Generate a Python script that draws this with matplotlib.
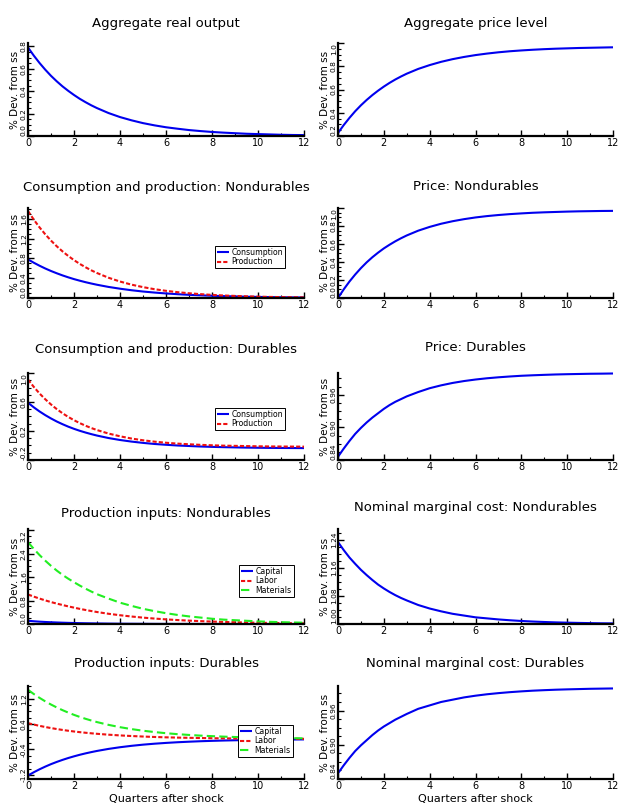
import numpy as np
import matplotlib
matplotlib.use("Agg")
import matplotlib.pyplot as plt
from matplotlib.ticker import FixedLocator, AutoMinorLocator

# ---------------- data ----------------
quarters = [0, 0.25, 0.5, 0.75, 1, 1.25, 1.5, 1.75, 2, 2.25, 2.5, 2.75, 3,
            3.5, 4, 4.5, 5, 5.5, 6, 6.5, 7, 7.5, 8, 8.5, 9, 9.5, 10, 10.5, 11, 11.5, 12]

agg_output = [0.790, 0.718, 0.652, 0.592, 0.537, 0.488, 0.443, 0.403, 0.366, 0.332, 0.302, 0.274, 0.249,
              0.205, 0.169, 0.140, 0.115, 0.095, 0.078, 0.065, 0.053, 0.044, 0.036, 0.030, 0.025, 0.020,
              0.017, 0.014, 0.011, 0.009, 0.008]
agg_price = [0.226, 0.294, 0.356, 0.413, 0.464, 0.510, 0.552, 0.590, 0.625, 0.657, 0.686, 0.712, 0.736,
             0.777, 0.810, 0.838, 0.861, 0.880, 0.896, 0.909, 0.920, 0.929, 0.936, 0.942, 0.947, 0.951,
             0.954, 0.957, 0.959, 0.961, 0.963]

nd_consumption = [0.780, 0.714, 0.653, 0.597, 0.546, 0.500, 0.457, 0.418, 0.382, 0.350, 0.320, 0.293, 0.268,
                  0.224, 0.188, 0.157, 0.131, 0.110, 0.092, 0.077, 0.064, 0.054, 0.045, 0.038, 0.032, 0.026,
                  0.022, 0.018, 0.015, 0.013, 0.011]
nd_production = [1.760, 1.586, 1.429, 1.288, 1.161, 1.046, 0.943, 0.850, 0.766, 0.690, 0.622, 0.560, 0.505,
                 0.410, 0.333, 0.270, 0.220, 0.178, 0.145, 0.118, 0.096, 0.078, 0.063, 0.051, 0.042, 0.034,
                 0.027, 0.022, 0.018, 0.015, 0.012]
nd_price = [0.000, 0.096, 0.183, 0.261, 0.332, 0.396, 0.453, 0.504, 0.551, 0.592, 0.630, 0.664, 0.695,
            0.748, 0.790, 0.825, 0.853, 0.876, 0.895, 0.910, 0.922, 0.932, 0.940, 0.947, 0.952, 0.956,
            0.960, 0.963, 0.965, 0.967, 0.968]

d_consumption = [0.590, 0.527, 0.470, 0.419, 0.373, 0.331, 0.294, 0.260, 0.230, 0.203, 0.179, 0.157, 0.137,
                 0.103, 0.076, 0.054, 0.036, 0.021, 0.010, 0.000, -0.007, -0.014, -0.019, -0.023, -0.026,
                 -0.029, -0.031, -0.033, -0.034, -0.035, -0.036]
d_production = [0.910, 0.809, 0.718, 0.638, 0.566, 0.502, 0.445, 0.394, 0.349, 0.309, 0.273, 0.241, 0.213,
                0.165, 0.127, 0.096, 0.072, 0.053, 0.038, 0.026, 0.017, 0.009, 0.003, -0.002, -0.005,
                -0.008, -0.011, -0.013, -0.014, -0.015, -0.016]
d_price = [0.846, 0.861, 0.875, 0.888, 0.899, 0.909, 0.918, 0.926, 0.934, 0.941, 0.947, 0.952, 0.957,
           0.9650, 0.9720, 0.9773, 0.9817, 0.9852, 0.9880, 0.9903, 0.9921, 0.9936, 0.9949, 0.9958, 0.9966,
           0.9973, 0.9978, 0.9982, 0.9986, 0.9988, 0.9991]

nd_capital = [0.110, 0.094, 0.080, 0.069, 0.060, 0.052, 0.045, 0.039, 0.034, 0.029, 0.025, 0.022, 0.019,
              0.014, 0.010, 0.008, 0.006, 0.004, 0.003, 0.002, 0.002, 0.001, 0.001, 0.001, 0.000, 0.000,
              0.000, 0.000, 0.000, 0.000, 0.000]
nd_labor = [1.010, 0.937, 0.870, 0.808, 0.750, 0.698, 0.650, 0.603, 0.560, 0.518, 0.480, 0.444, 0.410,
            0.350, 0.300, 0.256, 0.218, 0.186, 0.158, 0.135, 0.115, 0.098, 0.083, 0.071, 0.060, 0.051,
            0.044, 0.037, 0.032, 0.027, 0.023]
nd_materials = [2.800, 2.571, 2.360, 2.167, 1.990, 1.828, 1.680, 1.550, 1.430, 1.315, 1.210, 1.111, 1.020,
                0.870, 0.730, 0.620, 0.520, 0.440, 0.370, 0.310, 0.260, 0.220, 0.180, 0.150, 0.130, 0.110,
                0.090, 0.075, 0.063, 0.053, 0.045]
nd_mc = [1.233, 1.210, 1.189, 1.171, 1.154, 1.139, 1.125, 1.112, 1.101, 1.091, 1.082, 1.074, 1.067,
         1.054, 1.044, 1.036, 1.029, 1.024, 1.019, 1.0160, 1.0130, 1.0106, 1.0086, 1.0070, 1.0057, 1.0046,
         1.0038, 1.0031, 1.0025, 1.0020, 1.0017]

d_capital = [-1.220, -1.118, -1.025, -0.940, -0.862, -0.792, -0.728, -0.669, -0.616, -0.567, -0.523, -0.483,
             -0.446, -0.382, -0.329, -0.285, -0.248, -0.218, -0.193, -0.172, -0.155, -0.140, -0.128, -0.118,
             -0.110, -0.103, -0.098, -0.093, -0.089, -0.086, -0.083]
d_labor = [0.430, 0.386, 0.345, 0.308, 0.275, 0.244, 0.216, 0.190, 0.167, 0.146, 0.127, 0.110, 0.094,
           0.066, 0.043, 0.024, 0.008, -0.006, -0.017, -0.026, -0.033, -0.039, -0.045, -0.049, -0.052,
           -0.055, -0.058, -0.060, -0.062, -0.063, -0.064]
d_materials = [1.480, 1.348, 1.227, 1.117, 1.016, 0.924, 0.839, 0.762, 0.691, 0.626, 0.567, 0.513, 0.463,
               0.376, 0.303, 0.242, 0.191, 0.149, 0.113, 0.083, 0.058, 0.037, 0.020, 0.005, -0.007, -0.017,
               -0.026, -0.033, -0.039, -0.044, -0.048]
d_mc = [0.850, 0.864, 0.877, 0.889, 0.899, 0.908, 0.917, 0.925, 0.932, 0.938, 0.944, 0.949, 0.954,
        0.963, 0.969, 0.975, 0.979, 0.983, 0.986, 0.9885, 0.9905, 0.9922, 0.9936, 0.9948, 0.9957, 0.9965,
        0.9971, 0.9976, 0.9981, 0.9984, 0.9987]

x_ticks = [0, 2, 4, 6, 8, 10, 12]
x_tick_labels = ["0", "2", "4", "6", "8", "10", "12"]

titles = ["Aggregate real output", "Aggregate price level",
          "Consumption and production: Nondurables", "Price: Nondurables",
          "Consumption and production: Durables", "Price: Durables",
          "Production inputs: Nondurables", "Nominal marginal cost: Nondurables",
          "Production inputs: Durables", "Nominal marginal cost: Durables"]

y_ticks = [[0.0, 0.2, 0.4, 0.6, 0.8], [0.2, 0.4, 0.6, 0.8, 1.0],
           [0.0, 0.4, 0.8, 1.2, 1.6], [0.0, 0.2, 0.4, 0.6, 0.8, 1.0],
           [-0.2, 0.2, 0.6, 1.0], [0.84, 0.90, 0.96],
           [0.0, 0.8, 1.6, 2.4, 3.2], [1.00, 1.08, 1.16, 1.24],
           [-1.2, -0.4, 0.4, 1.2], [0.84, 0.90, 0.96]]
y_tick_labels = [["0.0", "0.2", "0.4", "0.6", "0.8"], ["0.2", "0.4", "0.6", "0.8", "1.0"],
                 ["0.0", "0.4", "0.8", "1.2", "1.6"], ["0.0", "0.2", "0.4", "0.6", "0.8", "1.0"],
                 ["-0.2", "0.2", "0.6", "1.0"], ["0.84", "0.90", "0.96"],
                 ["0.0", "0.8", "1.6", "2.4", "3.2"], ["1.00", "1.08", "1.16", "1.24"],
                 ["-1.2", "-0.4", "0.4", "1.2"], ["0.84", "0.90", "0.96"]]

BLUE, RED, GREEN = "#0000ee", "#ee1111", "#22ee22"
SOLID, SHORT, LONG = "-", (0, (2.0, 1.0)), (0, (4.0, 2.0))

panel_series = [
    [(agg_output, BLUE, SOLID, None)],
    [(agg_price, BLUE, SOLID, None)],
    [(nd_consumption, BLUE, SOLID, "Consumption"), (nd_production, RED, SHORT, "Production")],
    [(nd_price, BLUE, SOLID, None)],
    [(d_consumption, BLUE, SOLID, "Consumption"), (d_production, RED, SHORT, "Production")],
    [(d_price, BLUE, SOLID, None)],
    [(nd_capital, BLUE, SOLID, "Capital"), (nd_labor, RED, SHORT, "Labor"),
     (nd_materials, GREEN, LONG, "Materials")],
    [(nd_mc, BLUE, SOLID, None)],
    [(d_capital, BLUE, SOLID, "Capital"), (d_labor, RED, SHORT, "Labor"),
     (d_materials, GREEN, LONG, "Materials")],
    [(d_mc, BLUE, SOLID, None)],
]

# ---------------- layout (pixels) ----------------
W, H = 628, 808
y_lims = [(0, 0.83), (0.2, 1.0), (0, 1.82), (0, 1.0), (-0.2, 1.0), (0.84, 1.0),
          (0, 3.25), (1.0, 1.27), (-1.33, 1.6), (0.84, 1.003)]
col_x = [(28, 304), (338, 613)]
row_y = [(43, 136), (208, 298), (373, 460), (529, 624), (686, 779)]
title_y = [[24, 24], [187, 187], [349, 347], [513, 508], [663, 663]]
legend_pos = {2: (215, 246), 4: (215, 408), 6: (239, 565), 8: (238, 725)}
YTICK_FS = 5.4

fig = plt.figure(figsize=(W / 100, H / 100), dpi=100)
fig.patch.set_facecolor("white")

for i in range(10):
    r, c = divmod(i, 2)
    x0, x1 = col_x[c]
    y0, y1 = row_y[r]
    ax = fig.add_axes([x0 / W, 1 - y1 / H, (x1 - x0) / W, (y1 - y0) / H])
    for data, color, ls, lab in panel_series[i]:
        ax.plot(quarters, data, color=color, linestyle=ls, lw=1.5, label=lab,
                solid_capstyle="butt", solid_joinstyle="round", clip_on=False)
    ax.set_xlim(0, 12)
    lo, hi = y_lims[i]
    ax.set_ylim(lo, hi)
    for s in ["top", "right"]:
        ax.spines[s].set_visible(False)
    for s in ["left", "bottom"]:
        ax.spines[s].set_linewidth(1.6)
    ax.xaxis.set_major_locator(FixedLocator(x_ticks))
    ax.set_xticklabels(x_tick_labels)
    ax.yaxis.set_major_locator(FixedLocator(y_ticks[i]))
    ax.set_yticklabels(y_tick_labels[i])
    ax.xaxis.set_minor_locator(AutoMinorLocator(2))
    ax.yaxis.set_minor_locator(AutoMinorLocator(4))
    ax.tick_params(which="major", direction="in", length=4, width=1.0, labelsize=7, pad=1.5)
    ax.tick_params(which="minor", direction="in", length=2, width=0.8)
    ax.tick_params(axis="y", which="major", labelrotation=90, pad=0.8, labelsize=YTICK_FS)
    # keep end labels inside the axis extent when there is room for it
    rng = hi - lo
    px_per_unit = (y1 - y0) / rng
    step_px = (y_ticks[i][1] - y_ticks[i][0]) * px_per_unit
    lab_len = max(len(s) for s in y_tick_labels[i]) * YTICK_FS * 1.389 * 0.6
    room = step_px >= 1.25 * lab_len
    for tv, lbl in zip(y_ticks[i], ax.get_yticklabels()):
        if room and abs(tv - lo) < 0.03 * rng:
            lbl.set_va("bottom")
        elif room and abs(hi - tv) < 0.03 * rng:
            lbl.set_va("top")
        else:
            lbl.set_va("center")
    ax.set_ylabel("% Dev. from ss", fontsize=7.5)
    ax.yaxis.set_label_coords(-13 / (x1 - x0), 0.5)
    ax.yaxis.label.set_va("center")
    if r == 4:
        ax.set_xlabel("Quarters after shock", fontsize=8, labelpad=2)
    fig.text((x0 + x1) / 2 / W, 1 - title_y[r][c] / H, titles[i], ha="center", va="center",
             fontsize=9.5)
    if i in legend_pos:
        lx, ly = legend_pos[i]
        leg = ax.legend(loc="upper left", bbox_to_anchor=(lx / W, 1 - ly / H),
                        bbox_transform=fig.transFigure, borderaxespad=0, fontsize=5.6,
                        frameon=True, fancybox=False, edgecolor="black", framealpha=1,
                        handlelength=1.6, handletextpad=0.3, borderpad=0.25, labelspacing=0.05)
        leg.get_frame().set_linewidth(0.7)

fig.savefig("out.png", dpi=100, facecolor="white")
